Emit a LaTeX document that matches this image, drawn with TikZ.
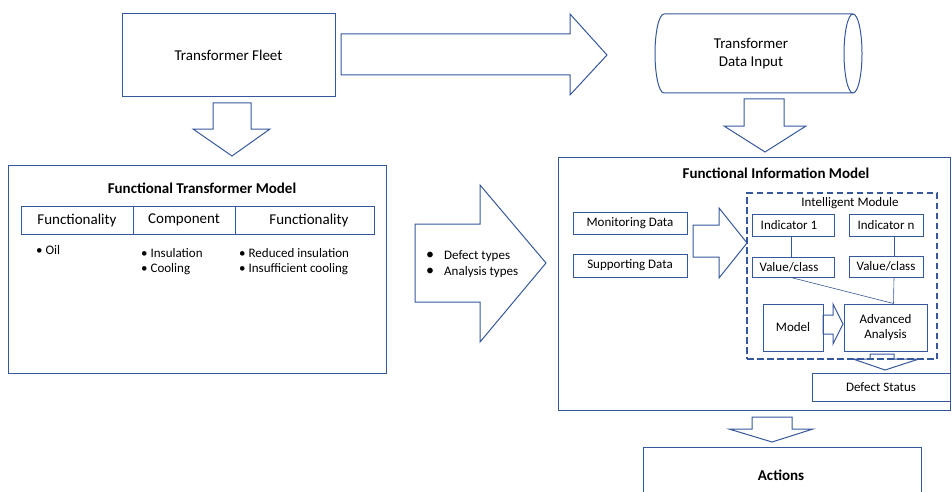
\documentclass[tikz,border=0pt]{standalone}
\usepackage{fontspec}
\setmainfont{Carlito}
\definecolor{bl}{RGB}{52,88,155}
\begin{document}
\begin{tikzpicture}[x=1pt,y=-1pt,
  box/.style={draw=bl,line width=1pt,rectangle,inner sep=0pt},
  arr/.style={draw=bl,line width=1pt,line join=miter},
  thin/.style={draw=bl,line width=0.6pt},
  s13/.style={font=\fontsize{13}{15.5}\selectfont},
  s15/.style={font=\fontsize{15}{18}\selectfont},
  b15/.style={font=\fontsize{15}{18}\selectfont\bfseries},
  txt/.style={inner sep=0pt,anchor=west}]
\useasboundingbox (0,0) rectangle (952,492);
% Top row
\node[box,s15,minimum width=213,minimum height=83] (fleet) at (228.5,55.5) {Transformer Fleet};
\draw[bl,line width=1pt] (664,14) -- (853,14) (664,93) -- (853,93)
  (853,53.5) ellipse [x radius=9,y radius=39.5]
  (664,14) arc [start angle=270,end angle=90,x radius=9,y radius=39.5];
\node[s15,align=center,inner sep=0pt] (cyl) at (751,54) {Transformer\\Data Input};
% arrows top
\draw[arr] (341,34) -- (570,34) -- (570,14) -- (607,55) -- (570,95) -- (570,75) -- (341,75) -- cycle;
\draw[arr] (213,103) -- (251,103) -- (251,129) -- (270,129) -- (232,156) -- (193,129) -- (213,129) -- cycle;
\draw[arr] (744,99) -- (784,99) -- (784,126) -- (806,126) -- (765,152) -- (724,126) -- (744,126) -- cycle;
% Functional Transformer Model
\node[box,minimum width=378,minimum height=208] (ftm) at (197,269) {};
\node[b15,inner sep=0pt] (ftmt) at (202,188) {Functional Transformer Model};
\node[box,s15,minimum width=112,minimum height=28] (c1) at (77,220) {Functionality};
\node[box,s15,minimum width=102,minimum height=28] (c2) at (184,220) {Component};
\node[box,s15,minimum width=139,minimum height=28] (c3) at (304.5,220) {\hspace{9pt}Functionality};
\node[s13,txt] (b1) at (36,250) {\textbullet\ Oil};
\node[s13,txt] (b2) at (141,253) {\textbullet\ Insulation};
\node[s13,txt] (b3) at (141,269) {\textbullet\ Cooling};
\node[s13,txt] (b4) at (239,253) {\textbullet\ Reduced insulation};
\node[s13,txt] (b5) at (239,269) {\textbullet\ Insufficient cooling};
% middle arrow
\draw[arr] (415,224) -- (480,224) -- (480,185) -- (546,263) -- (480,342) -- (480,302) -- (415,302) -- cycle;
\node[font=\fontsize{16}{18}\selectfont,inner sep=0pt] (m1) at (430,256) {\textbullet};
\node[font=\fontsize{16}{18}\selectfont,inner sep=0pt] (m2) at (430,272) {\textbullet};
\node[s13,txt] (mt1) at (444,256) {Defect types};
\node[s13,txt] (mt2) at (444,272) {Analysis types};
% Functional Information Model
\node[box,minimum width=392,minimum height=253] (fim) at (754,283.5) {};
\node[b15,inner sep=0pt] (fimt) at (776,173) {Functional Information Model};
\node[draw=bl,line width=1.2pt,dash pattern=on 6.5pt off 3.5pt,rectangle,inner sep=0pt,minimum width=190,minimum height=166] (im) at (842,276) {};
\node[s13,inner sep=0pt] (imt) at (850,203) {Intelligent Module};
\node[box,s13,minimum width=114,minimum height=22] (mon) at (630,223) {Monitoring Data};
\node[box,s13,minimum width=114,minimum height=23] (sup) at (630,265.5) {Supporting Data};
\draw[arr] (693,225) -- (719,225) -- (719,208) -- (747,243) -- (719,278) -- (719,257) -- (693,257) -- cycle;
\node[box,s13,minimum width=82,minimum height=22] (ind1) at (793,225) {\hspace{-8pt}Indicator 1};
\node[box,s13,minimum width=74,minimum height=22] (indn) at (886,225) {Indicator n};
\node[box,s13,minimum width=82,minimum height=20] (val1) at (793,267) {\hspace{-8pt}Value/class};
\node[box,s13,minimum width=74,minimum height=21] (valn) at (886,266.5) {Value/class};
\node[box,s13,minimum width=60,minimum height=47] (model) at (793,327.5) {Model};
\node[box,s13,minimum width=83,minimum height=47,align=center] (adv) at (885.5,327.5) {Advanced\\Analysis};
\draw[thin] ([xshift=-2pt]ind1.south) -- ([xshift=-2pt]val1.north);
\draw[thin] ([xshift=8pt]indn.south) -- ([xshift=8pt]valn.north);
\draw[thin] ([xshift=8pt]valn.south) -- ([xshift=8pt]adv.north);
\draw[thin] ([xshift=-2pt]val1.south) -- ([xshift=8pt]adv.north);
\draw[arr] (823,315) -- (833,315) -- (833,304) -- (843,324) -- (833,344) -- (833,334) -- (823,334) -- cycle;
\draw[arr] (870,354) -- (894,354) -- (894,359) -- (919,359) -- (885,370) -- (853,359) -- (870,359) -- cycle;
\node[box,s13,minimum width=138,minimum height=28] (ds) at (881,387) {Defect Status};
% Actions
\draw[arr] (752,417) -- (792,417) -- (792,429) -- (813,429) -- (772,442) -- (729,429) -- (752,429) -- cycle;
\node[box,minimum width=278,minimum height=58] (act) at (782,476) {};
\node[b15,inner sep=0pt] (actt) at (781,475) {Actions};
\end{tikzpicture}
\end{document}
